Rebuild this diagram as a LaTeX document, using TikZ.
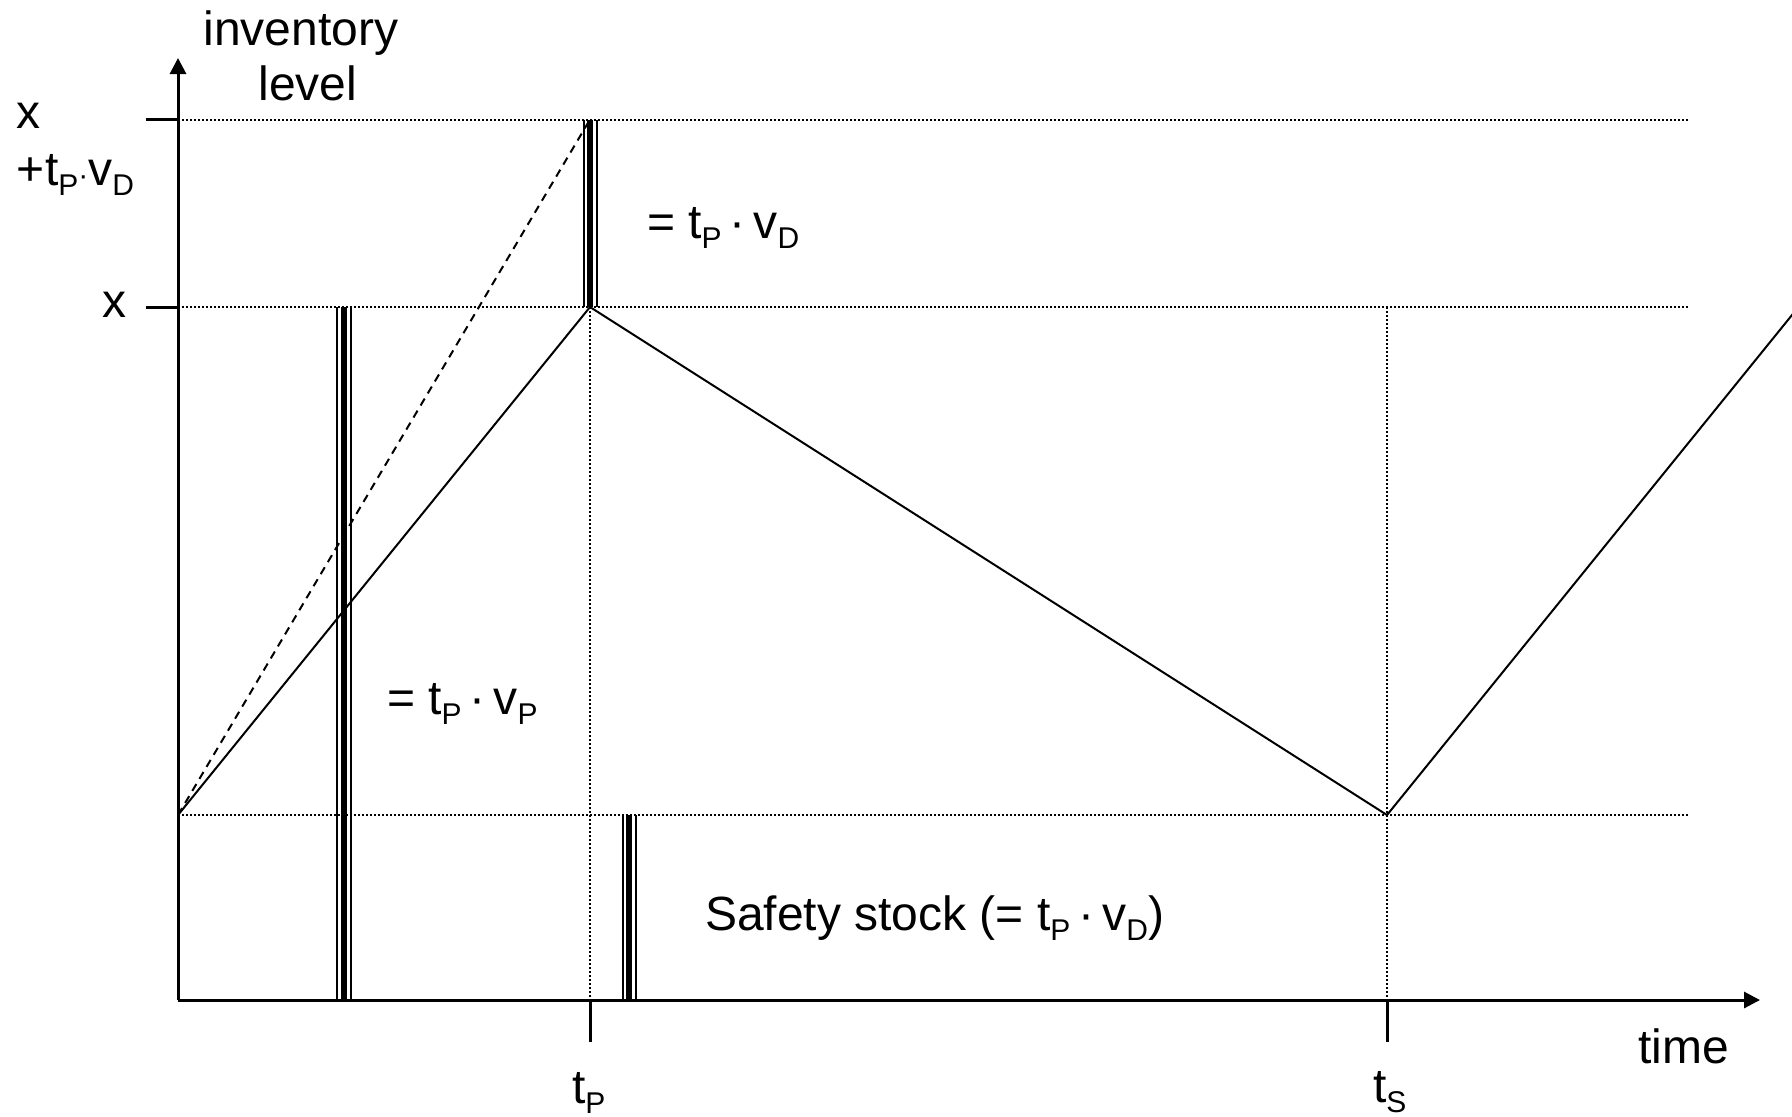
\documentclass[tikz,border=0pt]{standalone}
\usepackage{fontspec}
\setmainfont{Liberation Sans}
\usetikzlibrary{arrows.meta}
\newcommand{\sbs}[1]{\raisebox{-5pt}{\fontsize{15}{17}\selectfont #1}}
\newcommand{\mdot}{\hspace{4pt}·\hspace{4pt}}
\begin{document}
\begin{tikzpicture}[x=0.5pt,y=-0.5pt,
  every node/.style={inner sep=0pt,outer sep=0pt,font=\fontsize{24}{28}\selectfont},
  axis/.style={line width=1.5pt},
  axarrow/.style={axis,-{Triangle[length=8pt,width=8pt]}},
  guide/.style={line width=1pt,dash pattern=on 1pt off 1pt},
  curve/.style={line width=1pt},
  plan/.style={line width=1pt,dash pattern=on 4pt off 3pt},
  thinbar/.style={line width=1pt},
  thickbar/.style={line width=3pt}]
\useasboundingbox (0,0) rectangle (1792,1116);
% key coordinates
\coordinate (O) at (178,1000);
\coordinate (Ytop) at (178,58);
\coordinate (Xend) at (1760,1000);
\coordinate (S0) at (178,815);
\coordinate (Xl) at (178,307);
\coordinate (Xt) at (178,119.5);
\coordinate (Xtick) at (146,307);
\coordinate (Xttick) at (146,119.5);
\coordinate (P) at (590,307);
\coordinate (Ptop) at (590,119.5);
\coordinate (Pax) at (590,1000);
\coordinate (Ptick) at (590,1042);
\coordinate (T) at (1387,815);
\coordinate (Ttop) at (1387,307);
\coordinate (Tax) at (1387,1000);
\coordinate (Ttick) at (1387,1042);
\coordinate (R) at (1800,305.1);
\coordinate (G1) at (1688,119.5);
\coordinate (G2) at (1688,307);
\coordinate (G3) at (1688,815);
% dotted guides
\draw[guide] (Xt) -- (G1);
\draw[guide] (Xl) -- (G2);
\draw[guide] (S0) -- (G3);
\draw[guide] (P) -- (Pax);
\draw[guide] (Ttop) -- (Tax);
% axes and ticks
\draw[axarrow] (O) -- (Ytop);
\draw[axarrow] (O) -- (Xend);
\draw[axis] (Xttick) -- (Xt);
\draw[axis] (Xtick) -- (Xl);
\draw[axis] (Pax) -- (Ptick);
\draw[axis] (Tax) -- (Ttick);
% inventory curve
\draw[curve] (S0) -- (P) -- (T) -- (R);
\draw[plan] (S0) -- (Ptop);
% triple bars
\foreach \c/\ya/\yb/\l/\r in {344/307/1000/-7.5/6.5, 589.5/119.5/307/-5.5/7, 629/815/1000/-6/7}{
  \draw[thinbar] (\c+\l,\ya) -- (\c+\l,\yb);
  \draw[thickbar] (\c,\ya) -- (\c,\yb);
  \draw[thinbar] (\c+\r,\ya) -- (\c+\r,\yb);
}
% labels
\node[anchor=base] (ylab1) at (301,45) {inventory};
\node[anchor=base] (ylab2) at (308,100) {level};
\node[anchor=base west] (xt1) at (17,128) {x};
\node[anchor=base west] (xt2) at (17,185) {+t\sbs{P}{\fontsize{15}{17}\selectfont·}v\sbs{D}};
\node[anchor=base west] (xl) at (102,317) {x};
\node[anchor=base west] (dl) at (647,238) {= t\sbs{P}\mdot v\sbs{D}};
\node[anchor=base west] (pl) at (387,714) {= t\sbs{P}\mdot v\sbs{P}};
\node[anchor=base west] (ss) at (705,930) {Safety stock (= t\sbs{P}\mdot v\sbs{D})};
\node[anchor=base west] (tp) at (572,1103) {t\sbs{P}};
\node[anchor=base west] (ts) at (1373,1102) {t\sbs{S}};
\node[anchor=base west] (tm) at (1638,1063) {time};
\end{tikzpicture}
\end{document}
